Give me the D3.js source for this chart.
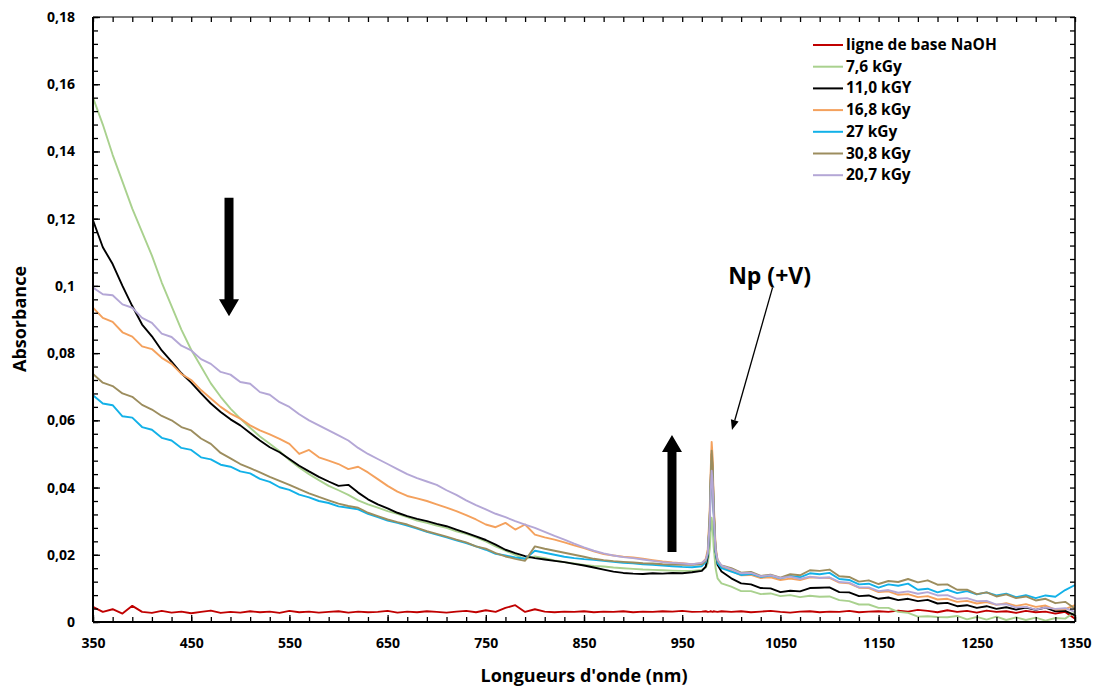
<!DOCTYPE html>
<html>
<head>
<meta charset="utf-8">
<script src="https://cdn.jsdelivr.net/npm/d3@7"></script>
<style>
  html, body { margin: 0; padding: 0; background: #fff; }
  svg { display: block; font-family: "Open Sans", "Noto Sans", sans-serif; }
</style>
</head>
<body>
<svg id="chart" width="1103" height="689"></svg>
<script>
// ---------- DATA ----------
const wavelengths = [
  350,360,370,380,390,400,410,420,430,440,
  450,460,470,480,490,500,510,520,530,540,
  550,560,570,580,590,600,610,620,630,640,
  650,660,670,680,690,700,710,720,730,740,
  750,760,770,780,790,800,810,820,830,840,
  850,860,870,880,890,900,910,920,930,940,
  950,960,
  970,974,976,978,979,980,981,982,984,986,990,
  1000,1010,1020,1030,1040,1050,1060,1070,1080,1090,
  1100,1110,1120,1130,1140,1150,1160,1170,1180,1190,
  1200,1210,1220,1230,1240,1250,1260,1270,1280,1290,
  1300,1310,1320,1330,1340,1350
];

const baseNaOH = [
  .0045,.0030,.0038,.0025,.0048,.0030,.0027,.0033,.0028,.0031,
  .0026,.0030,.0034,.0027,.0030,.0028,.0032,.0029,.0031,.0027,
  .0033,.0029,.0031,.0028,.0030,.0032,.0028,.0031,.0029,.0030,
  .0033,.0028,.0031,.0029,.0032,.0030,.0028,.0031,.0033,.0029,
  .0035,.0030,.0042,.0050,.0030,.0038,.0031,.0029,.0031,.0030,
  .0032,.0029,.0031,.0030,.0032,.0029,.0031,.0030,.0032,.0031,
  .0033,.0030,
  .0031,.0032,.0030,.0031,.0032,.0031,.0030,.0032,.0031,.0030,.0032,
  .0030,.0032,.0029,.0031,.0033,.0030,.0028,.0031,.0032,.0029,
  .0031,.0030,.0033,.0029,.0031,.0032,.0030,.0034,.0031,.0036,
  .0033,.0029,.0035,.0030,.0033,.0028,.0034,.0030,.0032,.0027,
  .0033,.0029,.0031,.0025,.0030,.0010
];

const dose7_6 = [
  .156,.148,.139,.131,.123,.116,.109,.101,.094,.087,
  .081,.076,.071,.067,.0635,.0605,.0578,.0552,.0530,.0508,
  .0482,.0460,.0440,.0422,.0405,.0392,.0378,.0362,.0350,.0340,
  .0330,.0322,.0312,.0302,.0295,.0287,.0280,.0270,.0262,.0252,
  .0240,.0225,.0212,.0200,.0188,.0195,.0190,.0183,.0178,.0174,
  .0170,.0167,.0165,.0162,.0160,.0158,.0156,.0155,.0154,.0153,
  .0152,.0152,
  .0155,.0162,.0175,.0215,.0265,.0310,.0285,.0225,.0160,.0130,.0115,
  .0105,.0092,.0092,.0083,.0085,.0077,.0080,.0074,.0078,.0075,
  .0076,.0065,.0062,.0052,.0052,.0042,.0042,.0030,.0027,.0016,
  .0017,.0015,.0014,.0018,.0008,.0015,.0007,.0016,.0006,.0014,
  .0006,.0013,.0004,.0012,.0010,.0030
];

const dose11_0 = [
  .1195,.1115,.1065,.1000,.0940,.0885,.0850,.0808,.0775,.0740,
  .0712,.0680,.0650,.0625,.0603,.0585,.0562,.0540,.0520,.0505,
  .0485,.0465,.0448,.0432,.0418,.0405,.0408,.0385,.0365,.0350,
  .0338,.0325,.0315,.0307,.0300,.0292,.0285,.0275,.0265,.0255,
  .0244,.0230,.0215,.0205,.0196,.0190,.0186,.0182,.0178,.0173,
  .0168,.0162,.0156,.0150,.0146,.0144,.0143,.0145,.0144,.0146,
  .0145,.0148,
  .0152,.0165,.0195,.0300,.0420,.0500,.0455,.0340,.0210,.0170,.0150,
  .0130,.0115,.0112,.0101,.0100,.0089,.0093,.0091,.0101,.0102,
  .0103,.0089,.0088,.0077,.0079,.0069,.0073,.0065,.0069,.0062,
  .0066,.0055,.0057,.0047,.0050,.0042,.0047,.0039,.0044,.0037,
  .0043,.0036,.0043,.0032,.0033,.0020
];

const dose16_8 = [
  .0935,.0905,.0893,.0862,.0849,.0820,.0812,.0786,.0768,.0738,
  .0720,.0690,.0665,.0640,.0620,.0605,.0585,.0570,.0558,.0545,
  .0530,.0500,.0512,.0490,.0480,.0470,.0455,.0462,.0445,.0425,
  .0405,.0388,.0375,.0368,.0360,.0350,.0340,.0330,.0318,.0305,
  .0290,.0282,.0295,.0275,.0290,.0260,.0252,.0245,.0237,.0228,
  .0220,.0210,.0202,.0198,.0194,.0192,.0188,.0184,.0180,.0177,
  .0175,.0172,
  .0175,.0188,.0215,.0330,.0450,.0536,.0490,.0365,.0225,.0185,.0165,
  .0152,.0139,.0140,.0131,.0133,.0125,.0129,.0125,.0133,.0132,
  .0131,.0117,.0115,.0102,.0101,.0089,.0091,.0081,.0083,.0074,
  .0077,.0067,.0069,.0060,.0063,.0055,.0059,.0051,.0056,.0048,
  .0053,.0045,.0049,.0037,.0038,.0050
];

const dose27 = [
  .0675,.0650,.0645,.0612,.0608,.0580,.0572,.0548,.0540,.0518,
  .0512,.0490,.0484,.0468,.0462,.0448,.0442,.0426,.0417,.0401,
  .0393,.0379,.0371,.0360,.0354,.0344,.0340,.0335,.0322,.0312,
  .0302,.0295,.0287,.0278,.0268,.0260,.0252,.0243,.0235,.0225,
  .0215,.0203,.0198,.0192,.0188,.0212,.0206,.0200,.0194,.0190,
  .0187,.0185,.0182,.0179,.0176,.0175,.0172,.0170,.0168,.0166,
  .0164,.0163,
  .0166,.0178,.0200,.0300,.0405,.0480,.0440,.0330,.0208,.0175,.0160,
  .0150,.0140,.0143,.0134,.0138,.0130,.0137,.0133,.0145,.0142,
  .0146,.0128,.0125,.0112,.0114,.0102,.0112,.0108,.0114,.0096,
  .0099,.0088,.0096,.0086,.0092,.0082,.0088,.0079,.0084,.0074,
  .0080,.0071,.0079,.0075,.0095,.0110
];

const dose30_8 = [
  .0738,.0712,.0702,.0680,.0670,.0646,.0632,.0613,.0600,.0580,
  .0570,.0546,.0530,.0503,.0487,.0470,.0458,.0445,.0432,.0420,
  .0408,.0395,.0383,.0372,.0362,.0352,.0345,.0340,.0325,.0315,
  .0305,.0297,.0290,.0280,.0270,.0262,.0254,.0245,.0237,.0225,
  .0218,.0205,.0195,.0188,.0182,.0225,.0218,.0212,.0206,.0200,
  .0194,.0188,.0184,.0181,.0179,.0177,.0175,.0174,.0172,.0171,
  .0170,.0170,
  .0172,.0182,.0205,.0310,.0425,.0510,.0465,.0345,.0215,.0182,.0168,
  .0160,.0147,.0149,.0137,.0141,.0132,.0142,.0139,.0154,.0152,
  .0156,.0136,.0134,.0120,.0124,.0113,.0122,.0119,.0128,.0118,
  .0124,.0111,.0112,.0096,.0096,.0083,.0088,.0076,.0082,.0071,
  .0076,.0064,.0069,.0056,.0060,.0040
];

const dose20_7 = [
  .0995,.0975,.0972,.0945,.0935,.0905,.0890,.0858,.0848,.0822,
  .0808,.0782,.0768,.0744,.0736,.0714,.0709,.0684,.0676,.0654,
  .0640,.0618,.0600,.0585,.0570,.0555,.0540,.0518,.0500,.0485,
  .0470,.0455,.0440,.0428,.0418,.0408,.0392,.0378,.0362,.0348,
  .0335,.0322,.0312,.0300,.0290,.0280,.0268,.0256,.0245,.0233,
  .0222,.0212,.0204,.0198,.0193,.0190,.0186,.0182,.0178,.0176,
  .0174,.0172,
  .0176,.0185,.0205,.0290,.0385,.0450,.0415,.0320,.0215,.0185,.0168,
  .0157,.0145,.0146,.0136,.0139,.0131,.0135,.0128,.0135,.0131,
  .0133,.0119,.0117,.0103,.0103,.0092,.0095,.0087,.0091,.0084,
  .0089,.0079,.0080,.0069,.0071,.0062,.0063,.0052,.0053,.0043,
  .0045,.0037,.0043,.0039,.0041,.0030
];

const seriesNames = ["ligne de base NaOH","7,6 kGy","11,0 kGY","16,8 kGy","27 kGy","30,8 kGy","20,7 kGy"];
const seriesValues = [baseNaOH, dose7_6, dose11_0, dose16_8, dose27, dose30_8, dose20_7];
const seriesColors = ["#c00000","#a9d18e","#000000","#f4a15d","#12b1e8","#9c8d5e","#b4a7d6"];

const xTickValues = [350,450,550,650,750,850,950,1050,1150,1250,1350];
const yTickValues = [0,0.02,0.04,0.06,0.08,0.1,0.12,0.14,0.16,0.18];
const yTickLabels = ["0","0,02","0,04","0,06","0,08","0,1","0,12","0,14","0,16","0,18"];

// ---------- CHART ----------
const svg = d3.select("#chart");
const L = 93, R = 1075, T = 17, B = 622;
const x = d3.scaleLinear().domain([350,1350]).range([L,R]);
const y = d3.scaleLinear().domain([0,0.18]).range([B,T]);

svg.append("defs").append("clipPath").attr("id","plotclip")
  .append("rect").attr("x",L).attr("y",T-2).attr("width",R-L).attr("height",B-T+2);

// lines
const line = d3.line().x((d,i)=>x(wavelengths[i])).y(d=>y(d));
const gLines = svg.append("g").attr("clip-path","url(#plotclip)");
seriesValues.forEach((vals,k)=>{
  gLines.append("path").datum(vals)
    .attr("d", line)
    .attr("fill","none")
    .attr("stroke", seriesColors[k])
    .attr("stroke-width", 1.9)
    .attr("stroke-linejoin","round");
});

// minor ticks (all four sides, inward)
const xMinor = d3.range(350, 1351, 20);
const yMinor = d3.range(0, 0.1801, 0.004);
const tickStyle = g => { g.select(".domain").remove(); g.selectAll("line").attr("stroke","#000").attr("stroke-width",1.3); g.selectAll("text").remove(); };
svg.append("g").attr("transform",`translate(0,${B})`).call(d3.axisBottom(x).tickValues(xMinor).tickSize(-5)).call(tickStyle);
svg.append("g").attr("transform",`translate(0,${T})`).call(d3.axisTop(x).tickValues(xMinor).tickSize(-5)).call(tickStyle);
svg.append("g").attr("transform",`translate(${L},0)`).call(d3.axisLeft(y).tickValues(yMinor).tickSize(-5)).call(tickStyle);
svg.append("g").attr("transform",`translate(${R},0)`).call(d3.axisRight(y).tickValues(yMinor).tickSize(-5)).call(tickStyle);

// major axes with labels
const gx = svg.append("g").attr("transform",`translate(0,${B})`)
  .call(d3.axisBottom(x).tickValues(xTickValues).tickFormat(d=>String(d)).tickSize(-7).tickPadding(16));
gx.select(".domain").remove();
gx.selectAll("line").attr("stroke","#000").attr("stroke-width",1.3);
gx.selectAll("text").attr("font-size",14).attr("font-weight","bold").attr("fill","#000")
  .attr("font-family","'Open Sans', sans-serif");

const gy = svg.append("g").attr("transform",`translate(${L},0)`)
  .call(d3.axisLeft(y).tickValues(yTickValues).tickFormat((d,i)=>yTickLabels[i]).tickSize(-7).tickPadding(18));
gy.select(".domain").remove();
gy.selectAll("line").attr("stroke","#000").attr("stroke-width",1.3);
gy.selectAll("text").attr("font-size",14).attr("font-weight","bold").attr("fill","#000")
  .attr("font-family","'Open Sans', sans-serif");

// frame
svg.append("line").attr("x1",L).attr("x2",L).attr("y1",T).attr("y2",B).attr("stroke","#000").attr("stroke-width",2);
svg.append("line").attr("x1",L).attr("x2",R).attr("y1",B).attr("y2",B).attr("stroke","#000").attr("stroke-width",2);
svg.append("line").attr("x1",L).attr("x2",R).attr("y1",T).attr("y2",T).attr("stroke","#000").attr("stroke-width",1.2);
svg.append("line").attr("x1",R).attr("x2",R).attr("y1",T).attr("y2",B).attr("stroke","#000").attr("stroke-width",1.6);

// axis titles
svg.append("text").attr("x",584).attr("y",682).attr("text-anchor","middle")
  .attr("font-size",18).attr("font-weight","bold").text("Longueurs d'onde (nm)");
svg.append("text").attr("transform",`translate(26,319) rotate(-90)`).attr("text-anchor","middle")
  .attr("font-size",18).attr("font-weight","bold").text("Absorbance");

// legend
const lg = svg.append("g");
seriesNames.forEach((name,k)=>{
  const yy = 45 + k*21.7;
  lg.append("line").attr("x1",813).attr("x2",843).attr("y1",yy).attr("y2",yy)
    .attr("stroke",seriesColors[k]).attr("stroke-width",2);
  lg.append("text").attr("x",846).attr("y",yy+5).attr("font-size",15.5).attr("font-weight","bold")
    .attr("fill","#000").text(name);
});

// annotation arrows (thick)
function thickArrow(nm, yFrom, yTo){
  const cx = x(nm), y0 = y(yFrom), y1 = y(yTo);
  const dir = y1 > y0 ? 1 : -1;
  const head = 17, sw = 4.5, hw = 10;
  const yh = y1 - dir*head;
  const pts = [[cx-sw,y0],[cx+sw,y0],[cx+sw,yh],[cx+hw,yh],[cx,y1],[cx-hw,yh],[cx-sw,yh]];
  svg.append("path").attr("d","M"+pts.map(p=>p.join(",")).join("L")+"Z").attr("fill","#000");
}
thickArrow(488.5, 0.1262, 0.0910);
thickArrow(939.6, 0.0208, 0.0556);

// Np (+V) label and thin arrow
svg.append("text").attr("x",x(1039)).attr("y",y(0.1005)).attr("text-anchor","middle")
  .attr("font-size",23).attr("font-weight","bold").text("Np (+V)");
const ax0 = x(1042), ay0 = y(0.0995), ax1 = x(1000.7), ay1 = y(0.0571);
const ang = Math.atan2(ay1-ay0, ax1-ax0);
const hl = 10, hwid = 4;
const bx = ax1 - hl*Math.cos(ang), by = ay1 - hl*Math.sin(ang);
svg.append("line").attr("x1",ax0).attr("y1",ay0).attr("x2",bx).attr("y2",by).attr("stroke","#000").attr("stroke-width",1.3);
svg.append("path").attr("d",`M${ax1},${ay1}L${bx + hwid*Math.sin(ang)},${by - hwid*Math.cos(ang)}L${bx - hwid*Math.sin(ang)},${by + hwid*Math.cos(ang)}Z`).attr("fill","#000");
</script>
</body>
</html>
